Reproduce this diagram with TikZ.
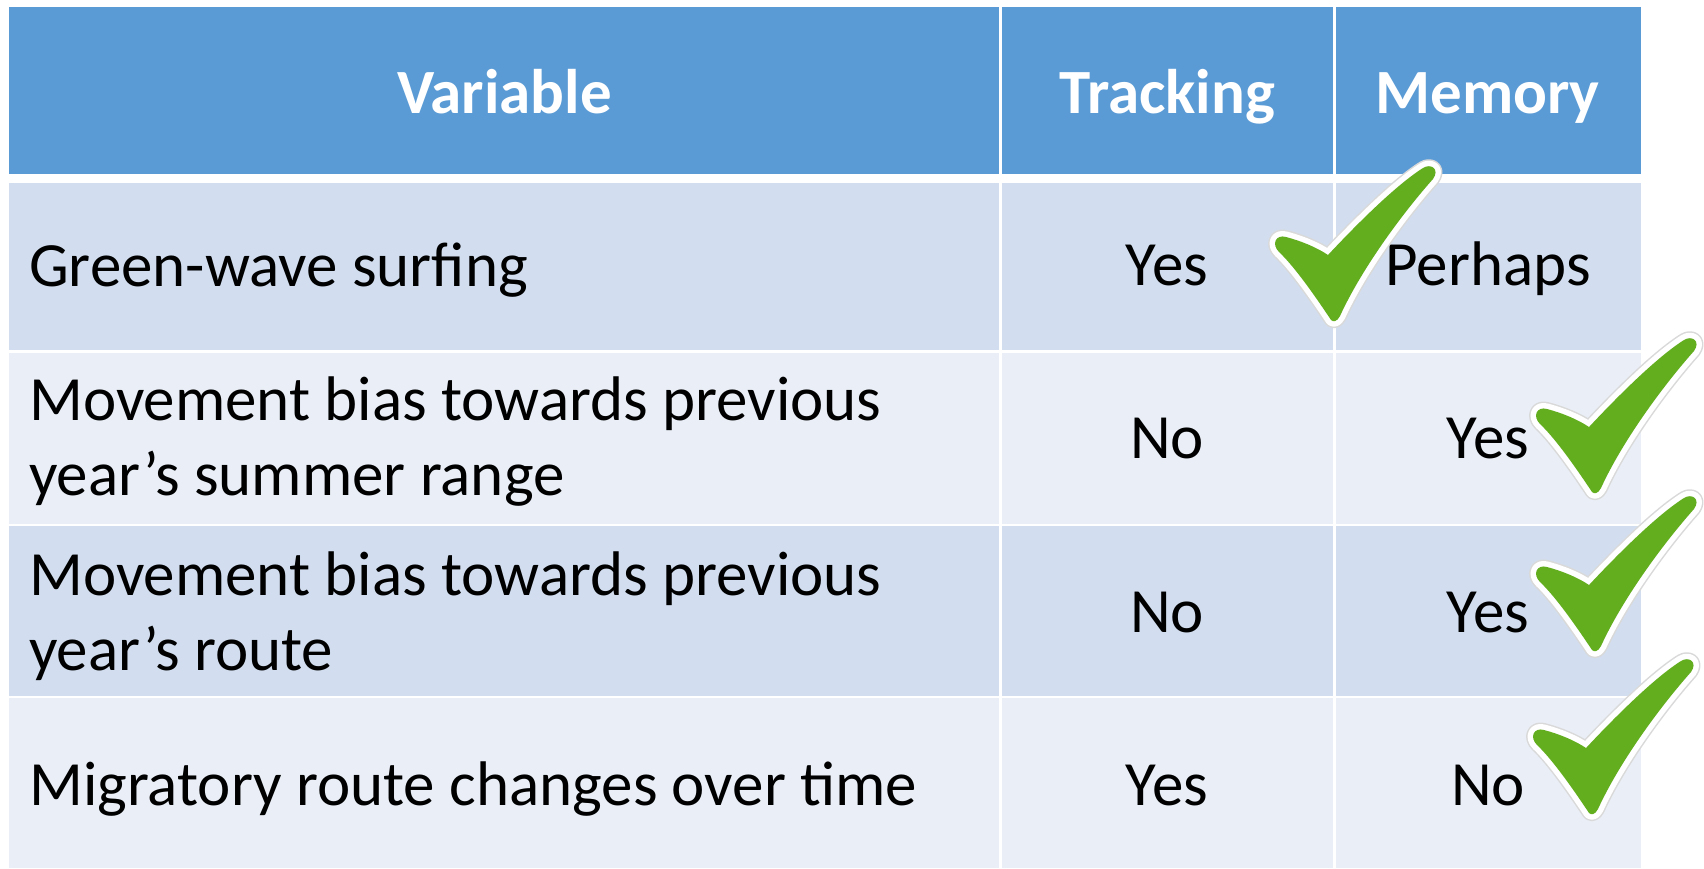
\documentclass[tikz,border=0pt]{standalone}
\usepackage{fontspec}
\setmainfont{Carlito}
\definecolor{hdrblue}{HTML}{5B9BD5}
\definecolor{rowdark}{HTML}{D2DEEF}
\definecolor{rowlight}{HTML}{EAEFF7}
\definecolor{tickgreen}{HTML}{62AE1F}
\def\tickpath{(0,0) .. controls (-12,-18) and (-35,-52) .. (-52,-68)
 .. controls (-60,-76) and (-55,-86) .. (-45,-83)
 .. controls (-30,-79) and (-15,-73) .. (-3,-65)
 .. controls (25,-95) and (65,-135) .. (92,-152)
 .. controls (100,-157) and (109,-151) .. (102,-141)
 .. controls (70,-105) and (30,-50) .. (9,-4)
 .. controls (6,2) and (2,2) .. (0,0) -- cycle}
\begin{document}
\begin{tikzpicture}[x=1pt,y=-1pt,
  hdr/.style={inner sep=0pt, anchor=base, text=white, font=\fontsize{63}{75}\selectfont\bfseries},
  cell/.style={inner sep=0pt, anchor=base, font=\fontsize{63}{75}\selectfont},
  lcell/.style={inner sep=0pt, anchor=base west, align=left, font=\fontsize{63}{75}\selectfont},
  sep/.style={white, line width=3pt},
  tick/.pic={
    \draw[gray!30, line width=14pt, line join=round] \tickpath;
    \draw[white, line width=11pt, line join=round] \tickpath;
    \fill[tickgreen] \tickpath;
  }]
\useasboundingbox (0,0) rectangle (1704,868);
\fill[white] (0,0) rectangle (1704,868);
% header
\fill[hdrblue] (9,7) rectangle (1641,174);
% rows
\fill[rowdark] (9,183) rectangle (1641,350);
\fill[rowlight] (9,353) rectangle (1641,524);
\fill[rowdark] (9,526) rectangle (1641,696);
\fill[rowlight] (9,698) rectangle (1641,868);
% column separators
\draw[sep] (1000,7) -- (1000,868);
\draw[sep] (1334,7) -- (1334,868);
% header texts
\node[hdr] (h1) at (504.5,113) {Variable};
\node[hdr] (h2) at (1167,113) {Tracking};
\node[hdr] (h3) at (1487.5,113) {Memory};
% first column (base anchor = baseline of the last line)
\node[lcell] (v1) at (29,286) {Green-wave surfing};
\node[lcell] (v2) at (29,495) {Movement bias towards previous\\year’s summer range};
\node[lcell] (v3) at (29,670) {Movement bias towards previous\\year’s route};
\node[lcell] (v4) at (29,805) {Migratory route changes over time};
% tracking
\node[cell] (t1) at (1167,285) {Yes};
\node[cell] (t2) at (1167,458) {No};
\node[cell] (t3) at (1167,632) {No};
\node[cell] (t4) at (1167,805) {Yes};
% memory
\node[cell] (m1) at (1488,285) {Perhaps};
\node[cell] (m2) at (1488,458) {Yes};
\node[cell] (m3) at (1488,632) {Yes};
\node[cell] (m4) at (1488,805) {No};
% ticks
\pic at (1331,320) {tick};
\pic at (1592,492) {tick};
\pic at (1592,650) {tick};
\pic at (1589,813) {tick};
\end{tikzpicture}
\end{document}
